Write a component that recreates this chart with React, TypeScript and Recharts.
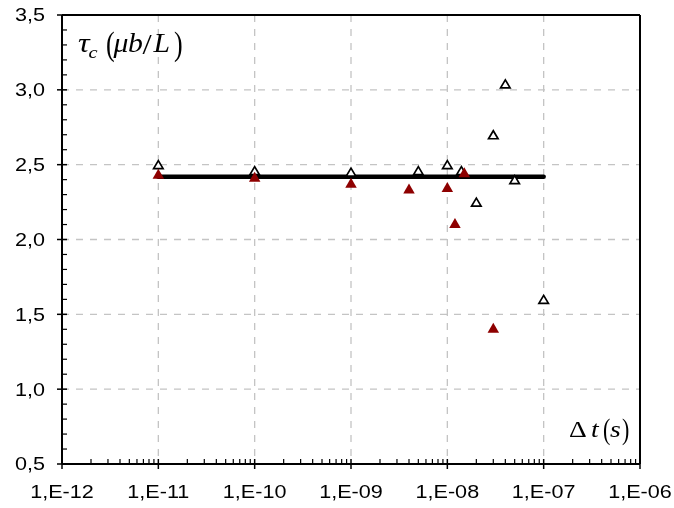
import React from 'react';
import { ScatterChart, Scatter, XAxis, YAxis, CartesianGrid, ReferenceLine } from 'recharts';

// ---- data ----
const openX = [1e-11, 1e-10, 1e-9, 5e-9, 1e-8, 1.4e-8, 2e-8, 3e-8, 4e-8, 5e-8, 1e-7];
const openY = [2.5, 2.46, 2.45, 2.46, 2.5, 2.46, 2.25, 2.7, 3.04, 2.4, 1.6];
const filledX = [1e-11, 1e-10, 1e-9, 4e-9, 1e-8, 1.2e-8, 1.5e-8, 3e-8];
const filledY = [2.44, 2.42, 2.38, 2.34, 2.35, 2.11, 2.45, 1.41];
const fitX = [1e-11, 1e-7];
const fitY = [2.42, 2.42];

const xMajorTicks = [1e-12, 1e-11, 1e-10, 1e-9, 1e-8, 1e-7, 1e-6];
const xTickLabels = ['1,E-12', '1,E-11', '1,E-10', '1,E-09', '1,E-08', '1,E-07', '1,E-06'];
const xMinorMultipliers = [2, 3, 4, 5, 6, 7, 8, 9];
const yMajorTicks = [0.5, 1, 1.5, 2, 2.5, 3, 3.5];
const yTickLabels = ['0,5', '1,0', '1,5', '2,0', '2,5', '3,0', '3,5'];
const yMinorTenths = [6, 7, 8, 9, 11, 12, 13, 14, 16, 17, 18, 19, 21, 22, 23, 24, 26, 27, 28, 29, 31, 32, 33, 34];
const xGridValues = [1e-11, 1e-10, 1e-9, 1e-8, 1e-7];
const yGridValues = [1, 1.5, 2, 2.5, 3];

const openData = openX.map((x, i) => ({ x, y: openY[i] }));
const filledData = filledX.map((x, i) => ({ x, y: filledY[i] }));
const fitData = fitX.map((x, i) => ({ x, y: fitY[i] }));

const xAllTicks: number[] = [...xMajorTicks];
xMajorTicks.slice(0, -1).forEach((d) => xMinorMultipliers.forEach((m) => xAllTicks.push(m * d)));
xAllTicks.sort((a, b) => a - b);
const yAllTicks: number[] = [...yMajorTicks, ...yMinorTenths.map((t) => t / 10)].sort((a, b) => a - b);

const SANS = '"Liberation Sans", Arial, sans-serif';
const SERIF = '"Liberation Serif", "Times New Roman", serif';
const SX = 1.2;
const TICK_FONT = 18;

const XTick = (props: any) => {
  const { x, y, payload } = props;
  const v = payload.value;
  const idx = xMajorTicks.findIndex((t) => Math.abs(t - v) / t < 1e-6);
  if (idx >= 0) {
    return (
      <g>
        <line x1={x} x2={x} y1={y - 5} y2={y + 5} stroke="#000" strokeWidth={1.5} />
        <text
          transform={`translate(${x},${y + 34}) scale(${SX},1)`}
          textAnchor="middle"
          fontFamily={SANS}
          fontSize={TICK_FONT}
          fill="#000"
        >
          {xTickLabels[idx]}
        </text>
      </g>
    );
  }
  return <line x1={x} x2={x} y1={y} y2={y - 5} stroke="#000" strokeWidth={1.2} />;
};

const YTick = (props: any) => {
  const { x, y, payload } = props;
  const v = payload.value;
  const idx = yMajorTicks.findIndex((t) => Math.abs(t - v) < 1e-6);
  if (idx >= 0) {
    return (
      <g>
        <line x1={x - 5} x2={x + 5} y1={y} y2={y} stroke="#000" strokeWidth={1.5} />
        <text
          transform={`translate(${x - 17},${y}) scale(${SX},1)`}
          textAnchor="end"
          dy="0.36em"
          fontFamily={SANS}
          fontSize={TICK_FONT}
          fill="#000"
        >
          {yTickLabels[idx]}
        </text>
      </g>
    );
  }
  return <line x1={x} x2={x + 5} y1={y} y2={y} stroke="#000" strokeWidth={1.2} />;
};

const OpenTri = (props: any) => {
  const { cx, cy } = props;
  if (cx == null || cy == null) return <g />;
  const w = 9.5, h = 8;
  return (
    <polygon
      points={`${cx - w / 2},${cy + h / 2} ${cx + w / 2},${cy + h / 2} ${cx},${cy - h / 2}`}
      fill="#fff"
      stroke="#000"
      strokeWidth={1.7}
      strokeLinejoin="miter"
    />
  );
};

const FilledTri = (props: any) => {
  const { cx, cy } = props;
  if (cx == null || cy == null) return <g />;
  const w = 11.5, h = 10;
  return (
    <polygon
      points={`${cx - w / 2},${cy + h / 2} ${cx + w / 2},${cy + h / 2} ${cx},${cy - h / 2}`}
      fill="#8e0000"
      stroke="none"
    />
  );
};

const NoShape = () => <g />;

const Paren = (p: { x: number; y: number; size: number; children: React.ReactNode }) => (
  <text
    transform={`translate(${p.x},${p.y}) scale(1,1.3)`}
    fontFamily={SERIF}
    fontSize={p.size}
    fill="#000"
  >
    {p.children}
  </text>
);

export default function App() {
  return (
    <div style={{ position: 'fixed', left: 0, top: 0, width: 674, height: 508 }}>
      <ScatterChart width={674} height={508} margin={{ top: 15, right: 34, bottom: 0, left: 0 }}>
        <CartesianGrid
          stroke="#c4c4c4"
          strokeWidth={1.3}
          strokeDasharray="7 7"
          horizontalValues={yGridValues}
          verticalValues={xGridValues}
        />
        <XAxis
          dataKey="x"
          type="number"
          scale="log"
          domain={[1e-12, 1e-6]}
          allowDataOverflow
          ticks={xAllTicks}
          interval={0}
          tickSize={0}
          tickMargin={0}
          tickLine={false}
          tick={<XTick />}
          axisLine={{ stroke: '#000', strokeWidth: 2 }}
          height={44}
        />
        <YAxis
          dataKey="y"
          type="number"
          domain={[0.5, 3.5]}
          allowDataOverflow
          ticks={yAllTicks}
          interval={0}
          tickSize={0}
          tickMargin={0}
          tickLine={false}
          tick={<YTick />}
          axisLine={{ stroke: '#000', strokeWidth: 2 }}
          width={62}
        />
        <ReferenceLine y={3.5} stroke="#000" strokeWidth={2} ifOverflow="visible" />
        <ReferenceLine x={1e-6} stroke="#000" strokeWidth={2} ifOverflow="visible" />
        <Scatter
          data={fitData}
          line={{ stroke: '#000', strokeWidth: 4.5, strokeLinecap: 'round' }}
          shape={<NoShape />}
          isAnimationActive={false}
        />
        <Scatter data={openData} shape={<OpenTri />} isAnimationActive={false} />
        <Scatter data={filledData} shape={<FilledTri />} isAnimationActive={false} />
      </ScatterChart>
      <svg
        width={674}
        height={508}
        style={{ position: 'absolute', left: 0, top: 0, pointerEvents: 'none' }}
      >
        {/* y title: τc (μb/L) */}
        <text transform={`translate(78,52) scale(${SX},1)`} fontFamily={SERIF} fontSize={27} fontStyle="italic" fill="#000">
          τ<tspan fontSize={17} dy={6} dx={-1}>c</tspan>
        </text>
        <Paren x={106} y={55} size={26}>(</Paren>
        <text transform="translate(113.5,52) scale(1.1,1)" fontFamily={SERIF} fontSize={27} fontStyle="italic" fill="#000">
          <tspan x={0}>μ</tspan>
          <tspan x={13.2}>b</tspan>
          <tspan x={26.4} fontSize={30} fontStyle="normal" dy={2}>/</tspan>
          <tspan x={36.4} dy={-2}>L</tspan>
        </text>
        <Paren x={174} y={55} size={26}>)</Paren>
        {/* x title: Δt (s) */}
        <text transform={`translate(569,437) scale(${SX},1)`} fontFamily={SERIF} fontSize={23} fill="#000">
          Δ<tspan x={18.3} fontStyle="italic">t</tspan>
        </text>
        <Paren x={603} y={439} size={22}>(</Paren>
        <text transform={`translate(610,437) scale(${SX},1)`} fontFamily={SERIF} fontSize={23} fontStyle="italic" fill="#000">
          s
        </text>
        <Paren x={622} y={439} size={22}>)</Paren>
      </svg>
    </div>
  );
}
